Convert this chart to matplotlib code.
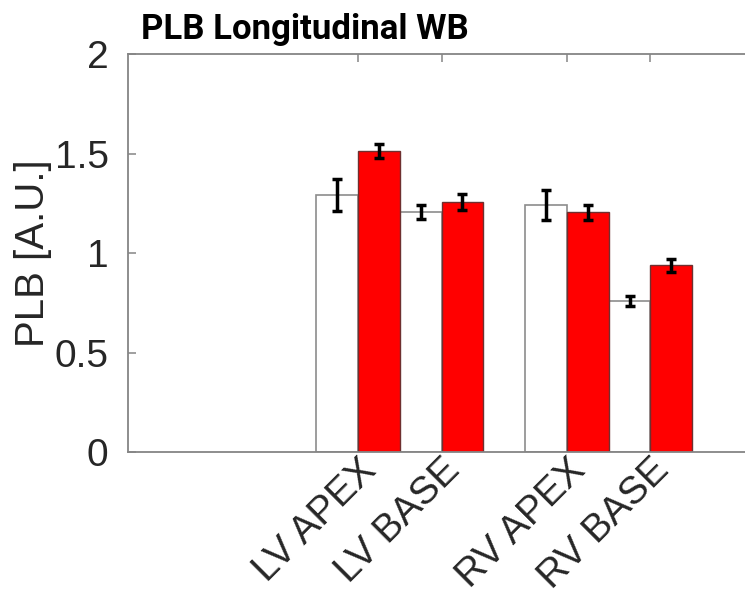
import numpy as np
import matplotlib
matplotlib.use('Agg')
import matplotlib.pyplot as plt

plt.rcParams['font.family'] = ['Liberation Sans', 'DejaVu Sans']

# === Data ===
regions = ['LV APEX', 'LV BASE', 'RV APEX', 'RV BASE']
ctrl_mean = [1.29, 1.207, 1.24, 0.76]
ctrl_sem = [0.081, 0.035, 0.075, 0.024]
treat_mean = [1.514, 1.255, 1.205, 0.938]
treat_sem = [0.036, 0.04, 0.038, 0.032]

# group centres (gap between LV and RV)
x = np.array([1, 2, 3.5, 4.5])
bar_width = 0.5

fig = plt.figure(figsize=(7.45, 6.09), dpi=100)
ax = fig.add_axes([0.1718, 0.2578, 0.862, 0.6535])

ax.bar(x - bar_width / 2, ctrl_mean, bar_width, color='white',
       edgecolor='#8c8c8c', linewidth=1.2, zorder=2)
ax.bar(x + bar_width / 2, treat_mean, bar_width, color='#ff0000',
       edgecolor='#6e3030', linewidth=1.0, zorder=2)

err_style = dict(fmt='none', ecolor='black', elinewidth=2.5,
                 capsize=3.5, capthick=2.5, zorder=3)
ax.errorbar(x - bar_width / 2, ctrl_mean, yerr=ctrl_sem, **err_style)
ax.errorbar(x + bar_width / 2, treat_mean, yerr=treat_sem, **err_style)

ax.set_xlim(-1.754, 5.934)
ax.set_ylim(0, 2)
ax.set_yticks([0, 0.5, 1, 1.5, 2])
ax.set_yticklabels(['0', '0.5', '1', '1.5', '2'])
ax.set_xticks(x)
ax.set_xticklabels(regions, rotation=45, ha='right', va='top',
                   rotation_mode='anchor')

# MATLAB-like box: grey spines, ticks pointing inwards
for side in ['left', 'bottom', 'top', 'right']:
    ax.spines[side].set_color('#858585')
    ax.spines[side].set_linewidth(1.3)
ax.tick_params(axis='both', direction='in', colors='#858585',
               labelcolor='#262626', labelsize=28, width=1.1)
ax.tick_params(axis='x', top=True, length=6, pad=0)
ax.tick_params(axis='y', length=6, pad=14)

ax.set_ylabel('PLB [A.U.]', fontsize=29, color='#262626', labelpad=2)
ax.set_title('PLB Longitudinal WB', fontsize=25, fontweight='bold',
             family=['Roboto', 'Liberation Sans'],
             color='black', x=0.276, pad=11)

fig.savefig('out.png', dpi=100)
